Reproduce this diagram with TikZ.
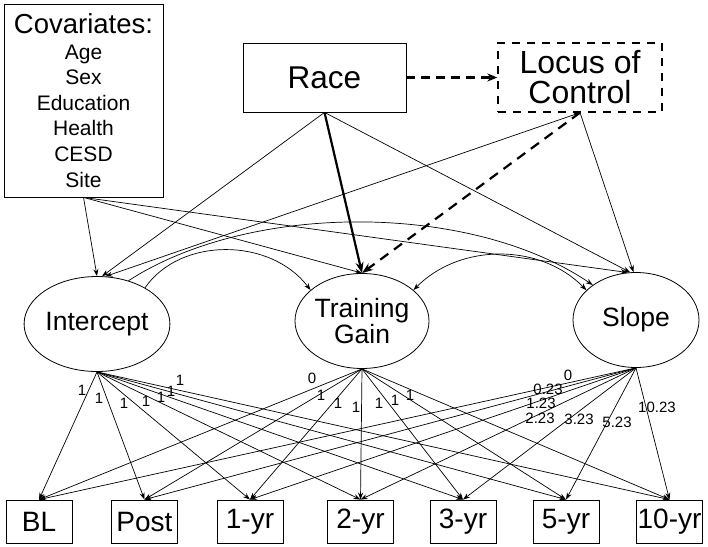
\documentclass[tikz,border=0pt]{standalone}
\usepackage{fontspec}
\setmainfont{Liberation Sans}
\usetikzlibrary{shapes.geometric,arrows.meta}
\begin{document}
\begin{tikzpicture}[x=1pt,y=-1pt,
  box/.style={draw, line width=0.8pt, inner sep=0pt, align=center},
  latent/.style={draw, ellipse, line width=0.8pt, minimum width=126pt, minimum height=95pt, inner sep=0pt, align=center, font=\fontsize{26.5}{26}\selectfont},
  obs/.style={box, minimum width=66pt, minimum height=43pt, font=\fontsize{28}{28}\selectfont},
  arr/.style={-{Stealth[length=7pt,width=5pt]}, line width=0.7pt},
  darr/.style={{Stealth[length=7pt,width=5pt]}-{Stealth[length=7pt,width=5pt]}, line width=0.7pt},
  thickarr/.style={-{Stealth[length=11pt,width=8pt]}, line width=2.2pt},
  dasharr/.style={-{Stealth[length=11pt,width=8pt]}, line width=2.2pt, dash pattern=on 10pt off 7pt},
  lbl/.style={inner sep=0pt, font=\fontsize{15}{15}\selectfont},
]
\useasboundingbox (0,0) rectangle (708,546);

% top boxes
\node[box, minimum width=159pt, minimum height=193pt, font=\fontsize{21}{25.6}\selectfont] (cov) at (83.5,100.5)
  {{\fontsize{27.5}{26}\selectfont Covariates:}\\Age\\Sex\\Education\\Health\\CESD\\Site};
\node[box, minimum width=163pt, minimum height=69pt, font=\fontsize{31.5}{31}\selectfont] (race) at (324.5,77.5) {Race};
\node[box, dash pattern=on 8pt off 7pt, line width=1.3pt, minimum width=164pt, minimum height=69pt, font=\fontsize{32}{30}\selectfont] (loc) at (580,77.5) {Locus of\\Control};

% latent variables
\node[latent] (int) at (97,324) {Intercept};
\node[latent] (tg) at (362,321) {Training\\Gain};
\node[latent] (slope) at (636,320) {Slope};

% observed
\node[obs] (bl) at (39,521.5) {BL};
\node[obs] (post) at (144.5,521.5) {Post};
\node[obs] (y1) at (250,521.5) {1-yr};
\node[obs] (y2) at (360.5,521.5) {2-yr};
\node[obs] (y3) at (463,521.5) {3-yr};
\node[obs] (y5) at (566,521.5) {5-yr};
\node[obs] (y10) at (669.5,521.5) {10-yr};

% predictors
\draw[-{Stealth[length=10pt,width=8pt]}, line width=2.2pt, dash pattern=on 9pt off 6pt] (race.east) -- (loc.west);
\draw[arr] (cov.south) -- (int.north);
\draw[arr] (cov.south) -- (tg.north);
\draw[arr] (cov.south) -- (slope.100);
\draw[arr] (race.south) -- (int.84);
\draw[arr] (race.south) -- (slope.97);
\draw[darr] (loc.south) -- (int.80);
\draw[arr] (loc.south) -- (slope.93);
\draw[thickarr] (race.south) -- (tg.north);
\draw[dasharr] (loc.south) -- (tg.north);

% covariances
\draw[arr] (int.37) .. controls (180,237) and (270,237) .. (tg.149);
\draw[arr] (int.54) .. controls (250,202) and (470,202) .. (slope.141);
\draw[darr] (tg.31) .. controls (460,243) and (540,243) .. (slope.149);

% loadings
\foreach \o in {bl,post,y1,y2,y3,y5,y10}{
  \draw[arr] (int.south) -- (\o.north);
  \draw[arr] (tg.south) -- (\o.north);
  \draw[arr] (slope.south) -- (\o.north);
}

% loading labels
\node[lbl] (a1) at (82,390) {1};
\node[lbl] (a2) at (99,398) {1};
\node[lbl] (a3) at (124,403) {1};
\node[lbl] (a4) at (146,401) {1};
\node[lbl] (a5) at (161,397) {1};
\node[lbl] (a6) at (171,391) {1};
\node[lbl] (a7) at (180,380) {1};

\node[lbl] (b1) at (312,378) {0};
\node[lbl] (b2) at (321,395) {1};
\node[lbl] (b3) at (338,403) {1};
\node[lbl] (b4) at (356,407) {1};
\node[lbl] (b5) at (379,403) {1};
\node[lbl] (b6) at (395,400) {1};
\node[lbl] (b7) at (410,395) {1};

\node[lbl] (c1) at (568,375) {0};
\node[lbl] (c2) at (548,389) {0.23};
\node[lbl] (c3) at (541,403) {1.23};
\node[lbl] (c4) at (540,418) {2.23};
\node[lbl] (c5) at (579,419) {3.23};
\node[lbl] (c6) at (617,422) {5.23};
\node[lbl] (c7) at (657,407) {10.23};
\end{tikzpicture}
\end{document}
